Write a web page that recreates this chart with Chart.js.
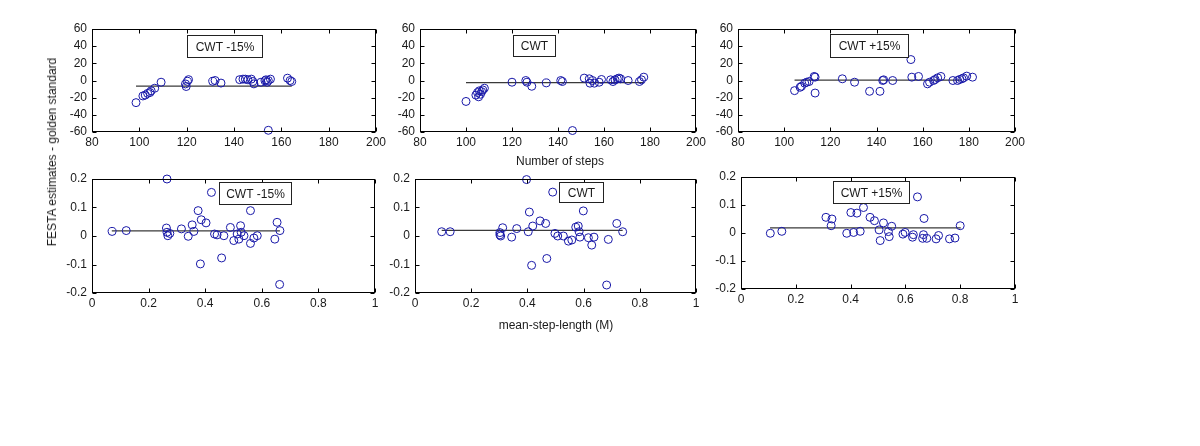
<!DOCTYPE html>
<html>
<head>
  <title>FESTA estimates - golden standard</title>
  <script src="https://cdn.jsdelivr.net/npm/chart.js"></script>
  <style>
    body {
      margin: 0;
      background: #fff;
      width: 1200px;
      height: 446px;
      overflow: hidden;
      position: relative;
      font-family: "Liberation Sans", Arial, sans-serif;
    }
    canvas {
      position: absolute;
    }
    .lbl {
      position: absolute;
      font-size: 12px;
      color: #1a1a1a;
      white-space: nowrap;
      transform: translate(-50%, -50%);
    }
    #ylab {
      left: 52px;
      top: 152px;
      transform: translate(-50%, -50%) rotate(-90deg);
    }
    #xlab1 { left: 560px; top: 161px; }
    #xlab2 { left: 556px; top: 325px; }
  </style>
</head>
<body>
  <canvas id="c1"></canvas>
  <canvas id="c2"></canvas>
  <canvas id="c3"></canvas>
  <canvas id="c4"></canvas>
  <canvas id="c5"></canvas>
  <canvas id="c6"></canvas>
  <div class="lbl" id="ylab">FESTA estimates - golden standard</div>
  <div class="lbl" id="xlab1">Number of steps</div>
  <div class="lbl" id="xlab2">mean-step-length (M)</div>

  <script>
    // tick labels
    var stepTicks = [80, 100, 120, 140, 160, 180, 200];
    var stepDiffTicks = [-60, -40, -20, 0, 20, 40, 60];
    var lenTicks = [0, 0.2, 0.4, 0.6, 0.8, 1];
    var lenDiffTicks = [-0.2, -0.1, 0, 0.1, 0.2];
    var titles = ["CWT -15%", "CWT", "CWT +15%"];

    // number of steps, CWT -15%
    var s1x = [98.6, 101.5, 102.5, 103.5, 104.5, 105, 106.5, 109.2, 119.5, 119.8, 120.3, 120.8, 131, 132, 134.5, 142.4, 143.8, 144.8, 145.9, 147.3, 148, 148.4, 151.4, 153.1, 153.5, 154, 154.5, 155.4, 154.5, 162.6, 163.7, 164.4];
    var s1y = [-25.8, -18, -17, -15, -14, -12, -9, -2, -4, -7, -1, 1, -1, 0, -3, 1, 1.6, 1.6, 0.8, 1.6, -1.2, -3.9, -2, -0.4, 0.8, -2, 0, 1.6, -58, 2.7, 0, -1.2];
    var s1MeanX = [98.6, 164.4];
    var s1MeanY = [-6.5, -6.5];

    // number of steps, CWT
    var s2x = [100, 104.3, 105, 105.5, 105.8, 106.3, 106.8, 107.3, 108, 120, 126, 126.5, 128.6, 134.9, 141.2, 141.9, 146.3, 151.4, 153.6, 153.9, 155, 155.8, 157.9, 158.9, 162.9, 163.9, 164.8, 165.8, 166.5, 167.2, 170.5, 175.4, 176.3, 177.3];
    var s2y = [-24.4, -17, -14, -19, -12, -16, -13, -11, -9, -2, 0, -2, -6.7, -2.8, 0, -1.2, -58.3, 2.8, 2, -3.1, 0, -3.1, -2, 1.2, 0.8, -1.2, 0.8, 2, 2.8, 2, 0, -1.2, 0.8, 3.9];
    var s2MeanX = [100, 177.3];
    var s2MeanY = [-2.5, -2.5];

    // number of steps, CWT +15%
    var s3x = [104.5, 106.9, 107.5, 108.9, 109.8, 110.8, 113, 113.4, 113.4, 125.2, 130.5, 137, 141.5, 142.7, 143.1, 147, 154.9, 155.3, 158.2, 162.1, 163, 164.7, 165.4, 166.5, 167.9, 173.1, 175.1, 176, 177, 177.7, 179.1, 181.6];
    var s3y = [-11.8, -7.9, -6.7, -3.1, -2, -1.2, 4.7, 3.9, -14.6, 2, -2, -12.6, -12.6, 0, 0.8, 0, 24.4, 3.9, 4.7, -3.9, -2, 0, 1.2, 3.1, 4.7, 0, 0, 1.2, 2, 3.1, 5.1, 3.9];
    var s3MeanX = [104.5, 177];
    var s3MeanY = [0.5, 0.5];

    // mean step length, CWT -15%
    var l1x = [0.071, 0.121, 0.265, 0.263, 0.265, 0.268, 0.275, 0.316, 0.34, 0.354, 0.36, 0.375, 0.383, 0.386, 0.403, 0.422, 0.433, 0.442, 0.458, 0.466, 0.489, 0.501, 0.513, 0.519, 0.525, 0.527, 0.537, 0.56, 0.56, 0.572, 0.584, 0.646, 0.654, 0.664, 0.663];
    var l1y = [0.016, 0.019, 0.2, 0.028, 0.013, 0.001, 0.009, 0.025, -0.001, 0.039, 0.016, 0.089, -0.098, 0.057, 0.046, 0.153, 0.007, 0.004, -0.077, 0.001, 0.03, -0.016, 0.007, -0.011, 0.036, 0.013, 0.001, 0.089, -0.026, -0.007, 0.001, -0.011, 0.048, 0.019, -0.17];
    var l1MeanX = [0.07, 0.664];
    var l1MeanY = [0.018, 0.018];

    // mean step length, CWT
    var l2x = [0.095, 0.125, 0.302, 0.302, 0.305, 0.312, 0.344, 0.362, 0.397, 0.407, 0.403, 0.415, 0.419, 0.445, 0.465, 0.469, 0.49, 0.498, 0.508, 0.528, 0.546, 0.558, 0.572, 0.581, 0.584, 0.587, 0.599, 0.617, 0.629, 0.637, 0.682, 0.688, 0.718, 0.739];
    var l2y = [0.015, 0.015, 0.012, 0.004, 0, 0.029, -0.004, 0.026, 0.198, 0.084, 0.015, -0.103, 0.035, 0.053, 0.044, -0.079, 0.154, 0.009, 0, 0, -0.018, -0.014, 0.031, 0.035, 0.015, -0.004, 0.088, -0.006, -0.032, -0.004, -0.172, -0.012, 0.044, 0.015];
    var l2MeanX = [0.095, 0.739];
    var l2MeanY = [0.02, 0.02];

    // mean step length, CWT +15%
    var l3x = [0.107, 0.149, 0.31, 0.332, 0.329, 0.386, 0.401, 0.411, 0.423, 0.435, 0.447, 0.471, 0.487, 0.504, 0.508, 0.52, 0.538, 0.541, 0.55, 0.591, 0.599, 0.626, 0.629, 0.644, 0.663, 0.666, 0.668, 0.678, 0.712, 0.721, 0.761, 0.781, 0.8];
    var l3y = [-0.001, 0.006, 0.056, 0.05, 0.026, -0.001, 0.073, 0.002, 0.071, 0.006, 0.091, 0.056, 0.044, 0.011, -0.027, 0.036, 0.005, -0.013, 0.024, -0.004, 0.002, -0.015, -0.006, 0.129, -0.019, -0.006, 0.052, -0.019, -0.021, -0.009, -0.021, -0.018, 0.026];
    var l3MeanX = [0.106, 0.802];
    var l3MeanY = [0.018, 0.018];

    var FONT = '"Liberation Sans", Arial, sans-serif';
    var M = { l: 45, r: 16, t: 10, b: 25 }; // canvas margin round each plot box

    function pairs(xs, ys) {
      return xs.map(function (x, i) { return { x: x, y: ys[i] }; });
    }

    // matlab look: full box, inward ticks on all sides, text box label
    var matlabAxes = {
      id: 'matlabAxes',
      afterDatasetsDraw: function (chart, args, opts) {
        var ctx = chart.ctx, a = chart.chartArea;
        var xs = chart.scales.x, ys = chart.scales.y;
        var L = Math.round(a.left) + 0.5, R = Math.round(a.right) - 0.5;
        var T = Math.round(a.top) + 0.5, B = Math.round(a.bottom) - 0.5;
        ctx.save();
        ctx.strokeStyle = '#000';
        ctx.lineWidth = 1;
        ctx.beginPath();
        opts.xt.forEach(function (v) {
          var p = Math.round(xs.getPixelForValue(v)) + 0.5;
          ctx.moveTo(p, B); ctx.lineTo(p, B - 4);
          ctx.moveTo(p, T); ctx.lineTo(p, T + 4);
        });
        opts.yt.forEach(function (v) {
          var p = Math.round(ys.getPixelForValue(v)) + 0.5;
          ctx.moveTo(L, p); ctx.lineTo(L + 4, p);
          ctx.moveTo(R, p); ctx.lineTo(R - 4, p);
        });
        ctx.stroke();
        ctx.strokeRect(L, T, R - L, B - T);

        var tb = opts.box;
        var x1 = Math.round(xs.getPixelForValue(tb[0])) + 0.5;
        var x2 = Math.round(xs.getPixelForValue(tb[1])) + 0.5;
        var y1 = Math.round(ys.getPixelForValue(tb[3])) + 0.5;
        var y2 = Math.round(ys.getPixelForValue(tb[2])) + 0.5;
        ctx.fillStyle = '#fff';
        ctx.fillRect(x1, y1, x2 - x1, y2 - y1);
        ctx.strokeStyle = '#222';
        ctx.strokeRect(x1, y1, x2 - x1, y2 - y1);
        ctx.fillStyle = '#1a1a1a';
        ctx.font = '12px ' + FONT;
        ctx.textAlign = 'center';
        ctx.textBaseline = 'middle';
        ctx.fillText(opts.text, (x1 + x2) / 2, (y1 + y2) / 2 + 1);
        ctx.restore();
      }
    };

    function tickFmt(v) {
      return String(Math.round(v * 10) / 10);
    }

    function makePanel(id, area, xs, ys, meanX, meanY, xt, yt, title, box) {
      var cv = document.getElementById(id);
      var w = area.r - area.l + M.l + M.r;
      var h = area.b - area.t + M.t + M.b;
      cv.width = w; cv.height = h;
      cv.style.width = w + 'px'; cv.style.height = h + 'px';
      cv.style.left = (area.l - M.l) + 'px';
      cv.style.top = (area.t - M.t) + 'px';

      return new Chart(cv.getContext('2d'), {
        type: 'scatter',
        data: {
          datasets: [{
            data: pairs(xs, ys),
            showLine: false,
            pointStyle: 'circle',
            pointRadius: 4,
            pointBorderWidth: 1,
            pointBackgroundColor: 'rgba(0,0,0,0)',
            pointBorderColor: 'rgb(24,24,168)',
            clip: false
          }, {
            type: 'line',
            data: pairs(meanX, meanY),
            borderColor: '#3a3a3a',
            borderWidth: 1.3,
            pointRadius: 0,
            fill: false,
            clip: false
          }]
        },
        options: {
          responsive: false,
          animation: false,
          devicePixelRatio: 1,
          layout: { padding: { left: 0, right: M.r, top: M.t, bottom: 0 } },
          plugins: {
            legend: { display: false },
            tooltip: { enabled: false },
            matlabAxes: { xt: xt, yt: yt, text: title, box: box }
          },
          scales: {
            x: {
              type: 'linear',
              min: xt[0],
              max: xt[xt.length - 1],
              grid: { display: false, drawTicks: false },
              border: { display: false },
              ticks: {
                autoSkip: false, maxRotation: 0, padding: 3,
                color: '#1a1a1a', font: { family: FONT, size: 12 },
                callback: tickFmt
              },
              afterBuildTicks: function (s) { s.ticks = xt.map(function (v) { return { value: v }; }); },
              afterFit: function (s) { s.height = M.b; s.paddingLeft = 0; s.paddingRight = 0; }
            },
            y: {
              type: 'linear',
              min: yt[0],
              max: yt[yt.length - 1],
              grid: { display: false, drawTicks: false },
              border: { display: false },
              ticks: {
                autoSkip: false, padding: 5,
                color: '#1a1a1a', font: { family: FONT, size: 12 },
                callback: tickFmt
              },
              afterBuildTicks: function (s) { s.ticks = yt.map(function (v) { return { value: v }; }); },
              afterFit: function (s) { s.width = M.l; s.paddingTop = 0; s.paddingBottom = 0; }
            }
          }
        },
        plugins: [matlabAxes]
      });
    }

    makePanel('c1', { l: 92, t: 29, r: 376, b: 132 }, s1x, s1y, s1MeanX, s1MeanY, stepTicks, stepDiffTicks, titles[0], [120.1, 151.8, 27.4, 53]);
    makePanel('c2', { l: 420, t: 29, r: 696, b: 132 }, s2x, s2y, s2MeanX, s2MeanY, stepTicks, stepDiffTicks, titles[1], [120.4, 138.7, 28.5, 53]);
    makePanel('c3', { l: 738, t: 29, r: 1015, b: 132 }, s3x, s3y, s3MeanX, s3MeanY, stepTicks, stepDiffTicks, titles[2], [119.9, 153.7, 27.4, 54.2]);
    makePanel('c4', { l: 92, t: 179, r: 375, b: 293 }, l1x, l1y, l1MeanX, l1MeanY, lenTicks, lenDiffTicks, titles[0], [0.449, 0.703, 0.112, 0.1895]);
    makePanel('c5', { l: 415, t: 179, r: 696, b: 293 }, l2x, l2y, l2MeanX, l2MeanY, lenTicks, lenDiffTicks, titles[1], [0.512, 0.669, 0.119, 0.1895]);
    makePanel('c6', { l: 741, t: 177, r: 1015, b: 289 }, l3x, l3y, l3MeanX, l3MeanY, lenTicks, lenDiffTicks, titles[2], [0.336, 0.613, 0.107, 0.1857]);
  </script>
</body>
</html>
